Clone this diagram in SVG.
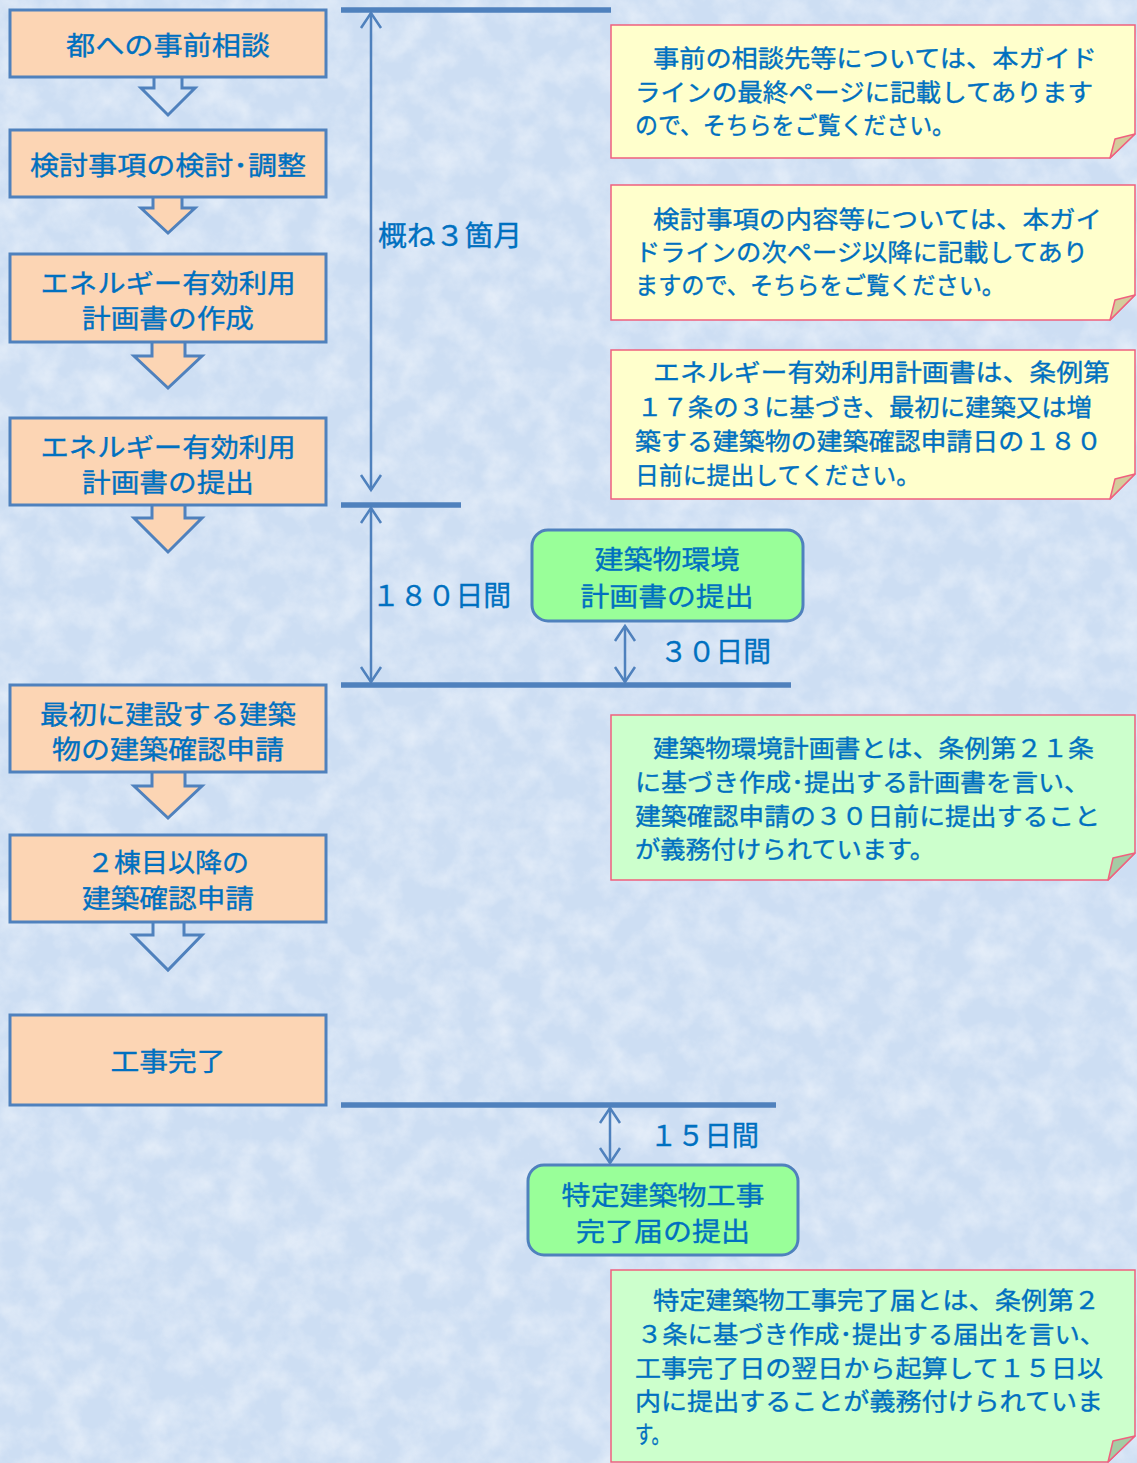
<svg xmlns="http://www.w3.org/2000/svg" width="1137" height="1463" viewBox="0 0 1137 1463">
  <style>
    text { font-family: "Noto Sans CJK JP", "Noto Sans", sans-serif; fill: #0070c0; stroke: #0070c0; stroke-width: 0.35; dominant-baseline: central; }
    .lbl { font-size: 26px; text-anchor: middle; }
    .note-t { font-size: 24px; }
    .box { fill: #fcd5b4; stroke: #4f81bd; stroke-width: 3; }
    .gbox { fill: #99ff99; stroke: #4f81bd; stroke-width: 3; }
    .barrow { stroke: #4f81bd; stroke-width: 3; stroke-linejoin: miter; }
    .hline { stroke: #4f81bd; stroke-width: 5.5; }
    .dim { stroke: #4f81bd; stroke-width: 2.5; fill: none; marker-start: url(#chev); marker-end: url(#chev); }
    .ynote { fill: #ffffcc; stroke: #f0607e; stroke-width: 1.5; }
    .gnote { fill: #ccffcc; stroke: #f0607e; stroke-width: 1.5; }
    .yfold { fill: #d4cc9c; stroke: #f0607e; stroke-width: 1.5; stroke-linejoin: round; }
    .gfold { fill: #a4cca4; stroke: #f0607e; stroke-width: 1.5; stroke-linejoin: round; }
  </style>
  <defs>
    <marker id="chev" viewBox="-20 -20 40 40" markerWidth="40" markerHeight="40" refX="0" refY="0" orient="auto-start-reverse" markerUnits="userSpaceOnUse">
      <path d="M-15,-10 L0,0 L-15,10" fill="none" stroke="#4f81bd" stroke-width="2.5"/>
    </marker>
    <filter id="tex" x="0" y="0" width="100%" height="100%">
      <feTurbulence type="fractalNoise" baseFrequency="0.035" numOctaves="4" seed="7"/>
      <feColorMatrix type="matrix" values="0 0 0 0 1  0 0 0 0 1  0 0 0 0 1  1.4 0 0 0 -0.5"/>
    </filter>
  </defs>

  <!-- background -->
  <rect x="0" y="0" width="1137" height="1463" fill="#cddef3"/>
  <rect x="0" y="0" width="1137" height="1463" filter="url(#tex)" opacity="0.6"/>

  <!-- connectors -->
  <g id="connectors">
    <path class="barrow" fill="none" d="M154,77 V88 H141 L168,115 L195,88 H182 V77"/>
    <path class="barrow" fill="#fcd5b4" d="M153,197 V208 H141 L168,233 L195,208 H182 V197"/>
    <path class="barrow" fill="#fcd5b4" d="M152,342 V356 H134 L168,388 L202,356 H185 V342"/>
    <path class="barrow" fill="#fcd5b4" d="M152,505 V518 H134 L168,552 L202,518 H185 V505"/>
    <path class="barrow" fill="#fcd5b4" d="M152,772 V786 H134 L168,818 L202,786 H185 V772"/>
    <path class="barrow" fill="none" d="M153,922 V935 H133 L168,970 L202,935 H184 V922"/>

    <line class="hline" x1="341" y1="10" x2="611" y2="10"/>
    <line class="hline" x1="341" y1="505" x2="461" y2="505"/>
    <line class="hline" x1="341" y1="685" x2="791" y2="685"/>
    <line class="hline" x1="341" y1="1105" x2="776" y2="1105"/>

    <line class="dim" x1="371" y1="13" x2="371" y2="490"/>
    <line class="dim" x1="371" y1="508" x2="371" y2="682"/>
    <line class="dim" x1="625" y1="626" x2="625" y2="682"/>
    <line class="dim" x1="610" y1="1108" x2="610" y2="1163"/>

    <text x="378" y="234" font-size="28" textLength="144" lengthAdjust="spacingAndGlyphs">概ね３箇月</text>
    <text x="372" y="594" font-size="28" textLength="139" lengthAdjust="spacingAndGlyphs">１８０日間</text>
    <text x="660" y="650" font-size="28" textLength="111" lengthAdjust="spacingAndGlyphs">３０日間</text>
    <text x="650" y="1134" font-size="28" textLength="109" lengthAdjust="spacingAndGlyphs">１５日間</text>
  </g>

  <!-- flow nodes -->
  <g id="n1">
    <rect class="box" x="10" y="10" width="316" height="67"/>
    <text class="lbl" x="168" y="43" textLength="204" lengthAdjust="spacingAndGlyphs">都への事前相談</text>
  </g>
  <g id="n2">
    <rect class="box" x="10" y="130" width="316" height="67"/>
    <text class="lbl" x="168" y="163" textLength="276" lengthAdjust="spacingAndGlyphs">検討事項の検討･調整</text>
  </g>
  <g id="n3">
    <rect class="box" x="10" y="254" width="316" height="88"/>
    <text class="lbl" x="168" y="281" textLength="255" lengthAdjust="spacingAndGlyphs">エネルギー有効利用</text>
    <text class="lbl" x="168" y="316" textLength="172" lengthAdjust="spacingAndGlyphs">計画書の作成</text>
  </g>
  <g id="n4">
    <rect class="box" x="10" y="418" width="316" height="87"/>
    <text class="lbl" x="168" y="445" textLength="255" lengthAdjust="spacingAndGlyphs">エネルギー有効利用</text>
    <text class="lbl" x="168" y="480" textLength="172" lengthAdjust="spacingAndGlyphs">計画書の提出</text>
  </g>
  <g id="n5">
    <rect class="box" x="10" y="685" width="316" height="87"/>
    <text class="lbl" x="168" y="712" textLength="256" lengthAdjust="spacingAndGlyphs">最初に建設する建築</text>
    <text class="lbl" x="168" y="747" textLength="232" lengthAdjust="spacingAndGlyphs">物の建築確認申請</text>
  </g>
  <g id="n6">
    <rect class="box" x="10" y="835" width="316" height="87"/>
    <text class="lbl" x="168" y="860" textLength="162" lengthAdjust="spacingAndGlyphs">２棟目以降の</text>
    <text class="lbl" x="168" y="896" textLength="172" lengthAdjust="spacingAndGlyphs">建築確認申請</text>
  </g>
  <g id="n7">
    <rect class="box" x="10" y="1015" width="316" height="90"/>
    <text class="lbl" x="168" y="1059" textLength="115" lengthAdjust="spacingAndGlyphs">工事完了</text>
  </g>

  <g id="g1">
    <rect class="gbox" x="532" y="530" width="271" height="91" rx="16"/>
    <text class="lbl" x="667" y="557" textLength="145" lengthAdjust="spacingAndGlyphs">建築物環境</text>
    <text class="lbl" x="667" y="594" textLength="173" lengthAdjust="spacingAndGlyphs">計画書の提出</text>
  </g>
  <g id="g2">
    <rect class="gbox" x="528" y="1165" width="270" height="90" rx="16"/>
    <text class="lbl" x="663" y="1193" textLength="203" lengthAdjust="spacingAndGlyphs">特定建築物工事</text>
    <text class="lbl" x="663" y="1229" textLength="174" lengthAdjust="spacingAndGlyphs">完了届の提出</text>
  </g>

  <!-- notes -->
  <g id="note1">
    <path class="ynote" d="M611,25 H1135 V134 L1110,158 H611 Z"/>
    <path class="yfold" d="M1135,134 L1115,139 L1110,158 Z"/>
    <text class="note-t" x="653" y="56" textLength="444" lengthAdjust="spacingAndGlyphs">事前の相談先等については、本ガイド</text>
    <text class="note-t" x="635" y="90" textLength="458" lengthAdjust="spacingAndGlyphs">ラインの最終ページに記載してあります</text>
    <text class="note-t" x="635" y="123" textLength="320" lengthAdjust="spacingAndGlyphs">ので、そちらをご覧ください。</text>
  </g>
  <g id="note2">
    <path class="ynote" d="M611,185 H1135 V295 L1110,320 H611 Z"/>
    <path class="yfold" d="M1135,295 L1115,300 L1110,320 Z"/>
    <text class="note-t" x="653" y="217" textLength="449" lengthAdjust="spacingAndGlyphs">検討事項の内容等については、本ガイ</text>
    <text class="note-t" x="635" y="250" textLength="453" lengthAdjust="spacingAndGlyphs">ドラインの次ページ以降に記載してあり</text>
    <text class="note-t" x="635" y="283" textLength="370" lengthAdjust="spacingAndGlyphs">ますので、そちらをご覧ください。</text>
  </g>
  <g id="note3">
    <path class="ynote" d="M611,350 H1135 V474 L1110,499 H611 Z"/>
    <path class="yfold" d="M1135,474 L1115,479 L1110,499 Z"/>
    <text class="note-t" x="653" y="370" textLength="457" lengthAdjust="spacingAndGlyphs">エネルギー有効利用計画書は、条例第</text>
    <text class="note-t" x="637" y="405" textLength="455" lengthAdjust="spacingAndGlyphs">１７条の３に基づき、最初に建築又は増</text>
    <text class="note-t" x="635" y="439" textLength="467" lengthAdjust="spacingAndGlyphs">築する建築物の建築確認申請日の１８０</text>
    <text class="note-t" x="635" y="473" textLength="285" lengthAdjust="spacingAndGlyphs">日前に提出してください。</text>
  </g>
  <g id="note4">
    <path class="gnote" d="M611,715 H1135 V853 L1108,880 H611 Z"/>
    <path class="gfold" d="M1135,853 L1113,858 L1108,880 Z"/>
    <text class="note-t" x="653" y="746" textLength="441" lengthAdjust="spacingAndGlyphs">建築物環境計画書とは、条例第２１条</text>
    <text class="note-t" x="635" y="780" textLength="455" lengthAdjust="spacingAndGlyphs">に基づき作成･提出する計画書を言い、</text>
    <text class="note-t" x="635" y="814" textLength="465" lengthAdjust="spacingAndGlyphs">建築確認申請の３０日前に提出すること</text>
    <text class="note-t" x="635" y="847" textLength="300" lengthAdjust="spacingAndGlyphs">が義務付けられています。</text>
  </g>
  <g id="note5">
    <path class="gnote" d="M611,1270 H1135 V1436 L1108,1462 H611 Z"/>
    <path class="gfold" d="M1135,1436 L1113,1441 L1108,1462 Z"/>
    <text class="note-t" x="653" y="1298" textLength="447" lengthAdjust="spacingAndGlyphs">特定建築物工事完了届とは、条例第２</text>
    <text class="note-t" x="637" y="1332" textLength="468" lengthAdjust="spacingAndGlyphs">３条に基づき作成･提出する届出を言い、</text>
    <text class="note-t" x="635" y="1366" textLength="468" lengthAdjust="spacingAndGlyphs">工事完了日の翌日から起算して１５日以</text>
    <text class="note-t" x="635" y="1399" textLength="468" lengthAdjust="spacingAndGlyphs">内に提出することが義務付けられていま</text>
    <text class="note-t" x="635" y="1432" textLength="35" lengthAdjust="spacingAndGlyphs">す。</text>
  </g>
</svg>
